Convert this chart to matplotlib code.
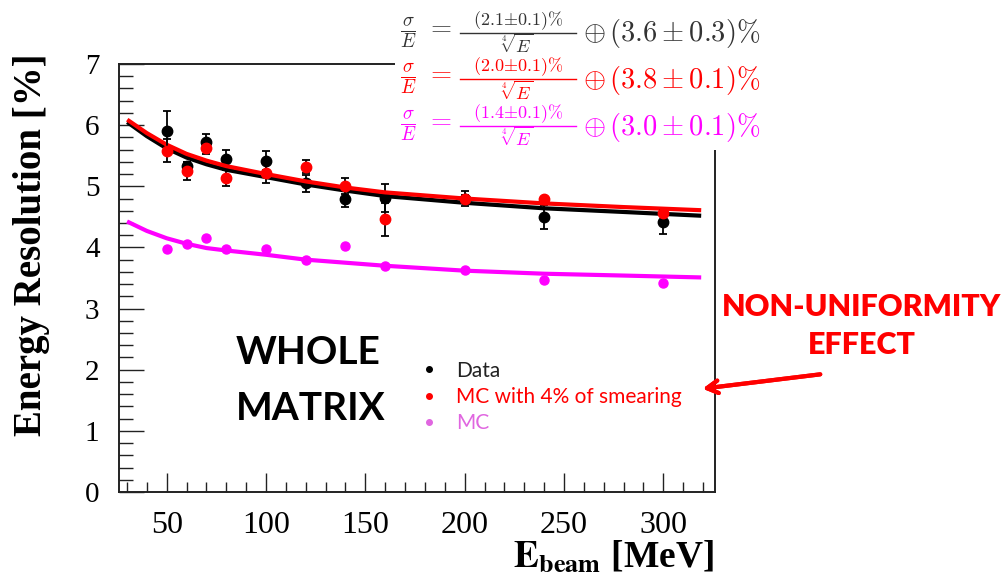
import matplotlib
matplotlib.use("Agg")
import matplotlib.pyplot as plt
from matplotlib.lines import Line2D
from matplotlib.patches import Rectangle
from matplotlib.ticker import MultipleLocator

# beam energies [MeV]
energy = [50, 60, 70, 80, 100, 120, 140, 160, 200, 240, 300]

# measured resolution [%] and errors
data_res = [5.90, 5.33, 5.73, 5.45, 5.42, 5.05, 4.79, 4.81, 4.80, 4.50, 4.42]
data_err = [0.33, 0.07, 0.13, 0.14, 0.15, 0.14, 0.13, 0.23, 0.12, 0.20, 0.20]

# MC with 4% smearing
smear_res = [5.58, 5.25, 5.63, 5.14, 5.22, 5.32, 5.00, 4.46, 4.80, 4.79, 4.57]
smear_err = [0.19, 0.14, 0.10, 0.13, 0.16, 0.11, 0.13, 0.27, 0.05, 0.03, 0.05]

# plain MC
mc_res = [3.97, 4.05, 4.15, 3.98, 3.97, 3.80, 4.02, 3.69, 3.63, 3.46, 3.42]

# fit curves
fit_e = [31, 40, 50, 60, 70, 80, 100, 120, 140, 160, 200, 240, 280, 318]
fit_data = [6.03, 5.82, 5.62, 5.47, 5.36, 5.27, 5.15, 5.03, 4.93, 4.84, 4.73, 4.64, 4.58, 4.52]
fit_smear = [6.07, 5.87, 5.68, 5.53, 5.42, 5.33, 5.20, 5.08, 4.98, 4.90, 4.80, 4.72, 4.66, 4.61]
fit_mc = [4.41, 4.27, 4.15, 4.06, 3.99, 3.95, 3.88, 3.80, 3.75, 3.70, 3.62, 3.57, 3.54, 3.51]

# fit results: stochastic term, constant term, its error, colour
fit_terms = [
    ("2.1", "3.6", "0.3", "#333333"),
    ("2.0", "3.8", "0.1", "#ff0000"),
    ("1.4", "3.0", "0.1", "#ff00ff"),
]

W, H = 1006, 578
fig = plt.figure(figsize=(W / 100, H / 100), dpi=100)
ax = fig.add_axes([119 / W, 1 - 492 / H, (715 - 119) / W, (492 - 64) / H])

ax.plot(fit_e, fit_data, color="black", lw=3, zorder=2)
ax.errorbar(energy, data_res, yerr=data_err, fmt="o", color="black", ms=7.5,
            elinewidth=1.3, capsize=3, capthick=1.3, zorder=3)
ax.plot(fit_e, fit_smear, color="#ff0000", lw=3, zorder=4)
ax.errorbar(energy, smear_res, yerr=smear_err, fmt="o", color="#ff0000", ecolor="black",
            ms=7.5, elinewidth=1.3, capsize=3, capthick=1.3, zorder=5)
ax.plot(fit_e, fit_mc, color="#ff00ff", lw=3, zorder=4)
ax.plot(energy, mc_res, "o", color="#ff00ff", ms=6.5, zorder=5)

ax.set_xlim(26, 326)
ax.set_ylim(0, 7)
ax.xaxis.set_major_locator(MultipleLocator(50))
ax.xaxis.set_minor_locator(MultipleLocator(10))
ax.yaxis.set_major_locator(MultipleLocator(1))
ax.yaxis.set_minor_locator(MultipleLocator(0.2))
ax.tick_params(which="both", direction="in", width=1, color="#222222")
ax.tick_params(axis="y", which="major", length=18, pad=14, labelsize=21)
ax.tick_params(axis="y", which="minor", length=10)
ax.tick_params(axis="x", which="major", length=14, pad=14, labelsize=23)
ax.tick_params(axis="x", which="minor", length=7)
for lab in ax.get_xticklabels() + ax.get_yticklabels():
    lab.set_family("Liberation Serif")
for s in ax.spines.values():
    s.set_linewidth(1.4)
    s.set_color("#222222")

fig.text(32 / W, 1 - 245 / H, "Energy Resolution [%]", rotation=90, ha="center", va="center",
         family="Liberation Serif", weight="bold", fontsize=28)
fig.text(714 / W, 1 - 567 / H, r"$\mathbf{E}_{\mathbf{beam}}$ [MeV]", ha="right", va="baseline",
         family="Liberation Serif", weight="bold", fontsize=27, math_fontfamily="stix")

# white patch behind the formulas (hides part of the frame)
fig.add_artist(Rectangle((395 / W, 1 - 150 / H), (W - 395) / W, 150 / H,
                         transform=fig.transFigure, facecolor="white", edgecolor="none", zorder=5))
for i, (stoch, const, cerr, col) in enumerate(fit_terms):
    yc = 33 + 46.5 * i  # pixel row of the fraction bar
    kw = dict(color=col, math_fontfamily="cm", zorder=6)
    fig.text(400 / W, 1 - yc / H, r"$\frac{\sigma}{E}\,\,=$", ha="left", va="center",
             fontsize=19.5, **kw)
    fig.text(518 / W, 1 - (yc - 1) / H, r"$(%s{\pm}0.1)\%%$" % stoch, ha="center", va="bottom",
             fontsize=13, **kw)
    fig.add_artist(Line2D([460 / W, 576 / W], [1 - yc / H, 1 - yc / H], lw=1, color=col,
                          transform=fig.transFigure, zorder=6))
    fig.text(517 / W, 1 - (yc + 1) / H, r"$\sqrt[4]{E}$", ha="center", va="top",
             fontsize=13, **kw)
    fig.text(583 / W, 1 - (yc + 1) / H, r"$\oplus\,(%s\pm%s)\%%$" % (const, cerr),
             ha="left", va="center", fontsize=20.5, **kw)

handles = [Line2D([], [], ls="none", marker="o", ms=4, color=c)
           for c in ["black", "#ff0000", "#e066e0"]]
leg = ax.legend(handles, ["Data", "MC with 4% of smearing", "MC"],
                loc="upper left", bbox_to_anchor=(400 / W, 1 - 342 / H),
                bbox_transform=fig.transFigure, frameon=False,
                prop={"family": "Lato", "size": 15}, labelspacing=0.3,
                handlelength=1.0, handletextpad=0.8,
                labelcolor=["#222222", "#ff0000", "#e066e0"])

fig.text(236 / W, 1 - 353 / H, "WHOLE", family="Lato", weight="bold", fontsize=28,
         ha="left", va="center")
fig.text(236 / W, 1 - 408 / H, "MATRIX", family="Lato", weight="bold", fontsize=28,
         ha="left", va="center")

fig.text(862 / W, 1 - 307 / H, "NON-UNIFORMITY", family="Lato", weight="heavy",
         fontsize=22, color="#ff0000", ha="center", va="center")
fig.text(862 / W, 1 - 345 / H, "EFFECT", family="Lato", weight="heavy",
         fontsize=22, color="#ff0000", ha="center", va="center")
fig.add_artist(plt.annotate("", xy=(700 / W, 1 - 389 / H), xytext=(823 / W, 1 - 374 / H),
                            xycoords=fig.transFigure, textcoords=fig.transFigure,
                            arrowprops=dict(arrowstyle="->,head_length=0.8,head_width=0.45",
                                            color="#ff0000", lw=3)))

fig.savefig("out.png", dpi=100)
